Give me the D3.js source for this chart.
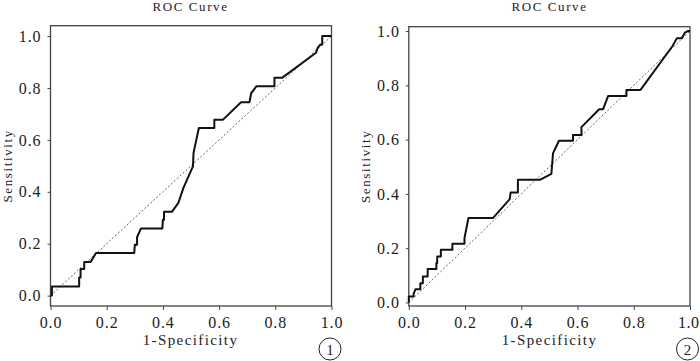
<!DOCTYPE html>
<html>
<head>
<meta charset="utf-8">
<script src="https://cdn.jsdelivr.net/npm/d3@7"></script>
<style>
  body { margin: 0; background: #fff; }
</style>
</head>
<body>
<div class="canvas"></div>
<script>
var serif = "'Liberation Serif', 'Times New Roman', Times, 'DejaVu Serif', serif";

// tick values shared by both panels
var ticks = [0, 0.2, 0.4, 0.6, 0.8, 1.0];

// panel 1 ROC curve (1-specificity, sensitivity)
var roc1X = [0, 0.005, 0.005, 0.102, 0.102, 0.107, 0.107, 0.12, 0.12, 0.143, 0.162, 0.298, 0.30, 0.308, 0.308, 0.322,
  0.398, 0.40, 0.404, 0.404, 0.432, 0.455, 0.473, 0.507, 0.509, 0.528, 0.583, 0.583, 0.614, 0.678, 0.708, 0.714,
  0.733, 0.797, 0.797, 0.824, 0.945, 0.951, 0.961, 0.967, 0.967, 1.0];
var roc1Y = [0, 0, 0.035, 0.035, 0.07, 0.07, 0.103, 0.103, 0.13, 0.13, 0.164, 0.164, 0.196, 0.196, 0.225, 0.259,
  0.259, 0.292, 0.292, 0.323, 0.323, 0.357, 0.415, 0.498, 0.55, 0.646, 0.646, 0.678, 0.678, 0.745, 0.745, 0.779,
  0.807, 0.807, 0.839, 0.839, 0.936, 0.955, 0.968, 0.968, 1.0, 1.0];

// panel 2 ROC curve
var roc2X = [0, 0, 0.017, 0.017, 0.024, 0.041, 0.041, 0.05, 0.05, 0.067, 0.067, 0.098, 0.098, 0.101, 0.101, 0.114,
  0.114, 0.155, 0.155, 0.198, 0.198, 0.212, 0.299, 0.359, 0.362, 0.388, 0.388, 0.466, 0.507, 0.509, 0.513, 0.534,
  0.584, 0.584, 0.614, 0.614, 0.677, 0.691, 0.709, 0.774, 0.774, 0.824, 0.938, 0.953, 0.970, 0.982, 0.992, 1.0];
var roc2Y = [0, 0.022, 0.022, 0.032, 0.049, 0.049, 0.071, 0.071, 0.096, 0.096, 0.123, 0.123, 0.145, 0.145, 0.169, 0.169,
  0.194, 0.194, 0.216, 0.216, 0.237, 0.311, 0.311, 0.381, 0.405, 0.405, 0.452, 0.452, 0.474, 0.50, 0.55, 0.596,
  0.596, 0.617, 0.617, 0.646, 0.712, 0.712, 0.761, 0.761, 0.783, 0.783, 0.945, 0.973, 0.973, 0.994, 1.0, 1.0];

var panels = [
  { xs: roc1X, ys: roc1Y, label: "1", left: 50.5, right: 331.5, top: 25.7, bottom: 306, yPad: [-0.04, 1.04], cx: 190.5, nx: 330 },
  { xs: roc2X, ys: roc2Y, label: "2", left: 408.8, right: 690, top: 26.7, bottom: 306, yPad: [-0.013, 1.016], cx: 549.5, nx: 687.5 }
];

var width = 700, height = 361;
var svg = d3.select(".canvas").append("svg")
  .attr("width", width)
  .attr("height", height);

function txt(sel, size, ls) {
  return sel.style("font-family", serif).style("font-size", size + "px")
    .style("letter-spacing", (ls || 0) + "px").style("fill", "#222");
}

panels.forEach(function (p, i) {
  var x = d3.scaleLinear().domain([0, 1]).range([p.left, p.right]);
  var y = d3.scaleLinear().domain(p.yPad).range([p.bottom, p.top]);
  var g = svg.append("g");

  // frame
  g.append("rect")
    .attr("x", p.left).attr("y", p.top)
    .attr("width", p.right - p.left).attr("height", p.bottom - p.top)
    .attr("fill", "none").attr("stroke", "#444").attr("stroke-width", 1.3);

  var xAxis = g.append("g")
    .attr("transform", "translate(0," + p.bottom + ")")
    .call(d3.axisBottom(x).tickValues(ticks).tickFormat(d3.format(".1f")).tickSize(4).tickPadding(7));
  var yAxis = g.append("g")
    .attr("transform", "translate(" + p.left + ",0)")
    .call(d3.axisLeft(y).tickValues(ticks).tickFormat(d3.format(".1f")).tickSize(3).tickPadding(6));

  [xAxis, yAxis].forEach(function (a) {
    a.select(".domain").remove();
    a.selectAll("line").attr("stroke", "#444");
    txt(a.selectAll("text"), 16, 0.9);
  });
  // right-most label sits at the picture's edge
  if (i === 1) {
    xAxis.selectAll(".tick text").filter(function (d) { return d === 1; })
      .attr("text-anchor", "end").attr("x", 9).style("letter-spacing", "0.5px");
  }

  // reference diagonal
  g.append("line")
    .attr("x1", x(0)).attr("y1", y(0)).attr("x2", x(1)).attr("y2", y(1))
    .attr("stroke", "#555").attr("stroke-width", 0.9).attr("stroke-dasharray", "2,2");

  var line = d3.line().x(function (d) { return x(d[0]); }).y(function (d) { return y(d[1]); });
  g.append("path")
    .datum(d3.zip(p.xs, p.ys))
    .attr("d", line)
    .attr("fill", "none").attr("stroke", "#111").attr("stroke-width", 2).attr("stroke-linejoin", "round");

  // titles
  txt(g.append("text").attr("x", p.cx).attr("y", 11).attr("text-anchor", "middle"), 13, 1.6).text("ROC Curve");
  txt(g.append("text").attr("x", p.cx).attr("y", 345).attr("text-anchor", "middle"), 15, 1.4).text("1-Specificity");
  txt(g.append("text")
    .attr("transform", "translate(" + (p.left - 39) + "," + ((p.top + p.bottom) / 2) + ") rotate(-90)")
    .attr("text-anchor", "middle"), 13, 1.6).text("Sensitivity");

  // circled panel number
  g.append("circle").attr("cx", p.nx).attr("cy", 349).attr("r", 11)
    .attr("fill", "none").attr("stroke", "#222").attr("stroke-width", 1);
  txt(g.append("text").attr("x", p.nx).attr("y", 354.5).attr("text-anchor", "middle"), 15).text(p.label);
});
</script>
</body>
</html>
